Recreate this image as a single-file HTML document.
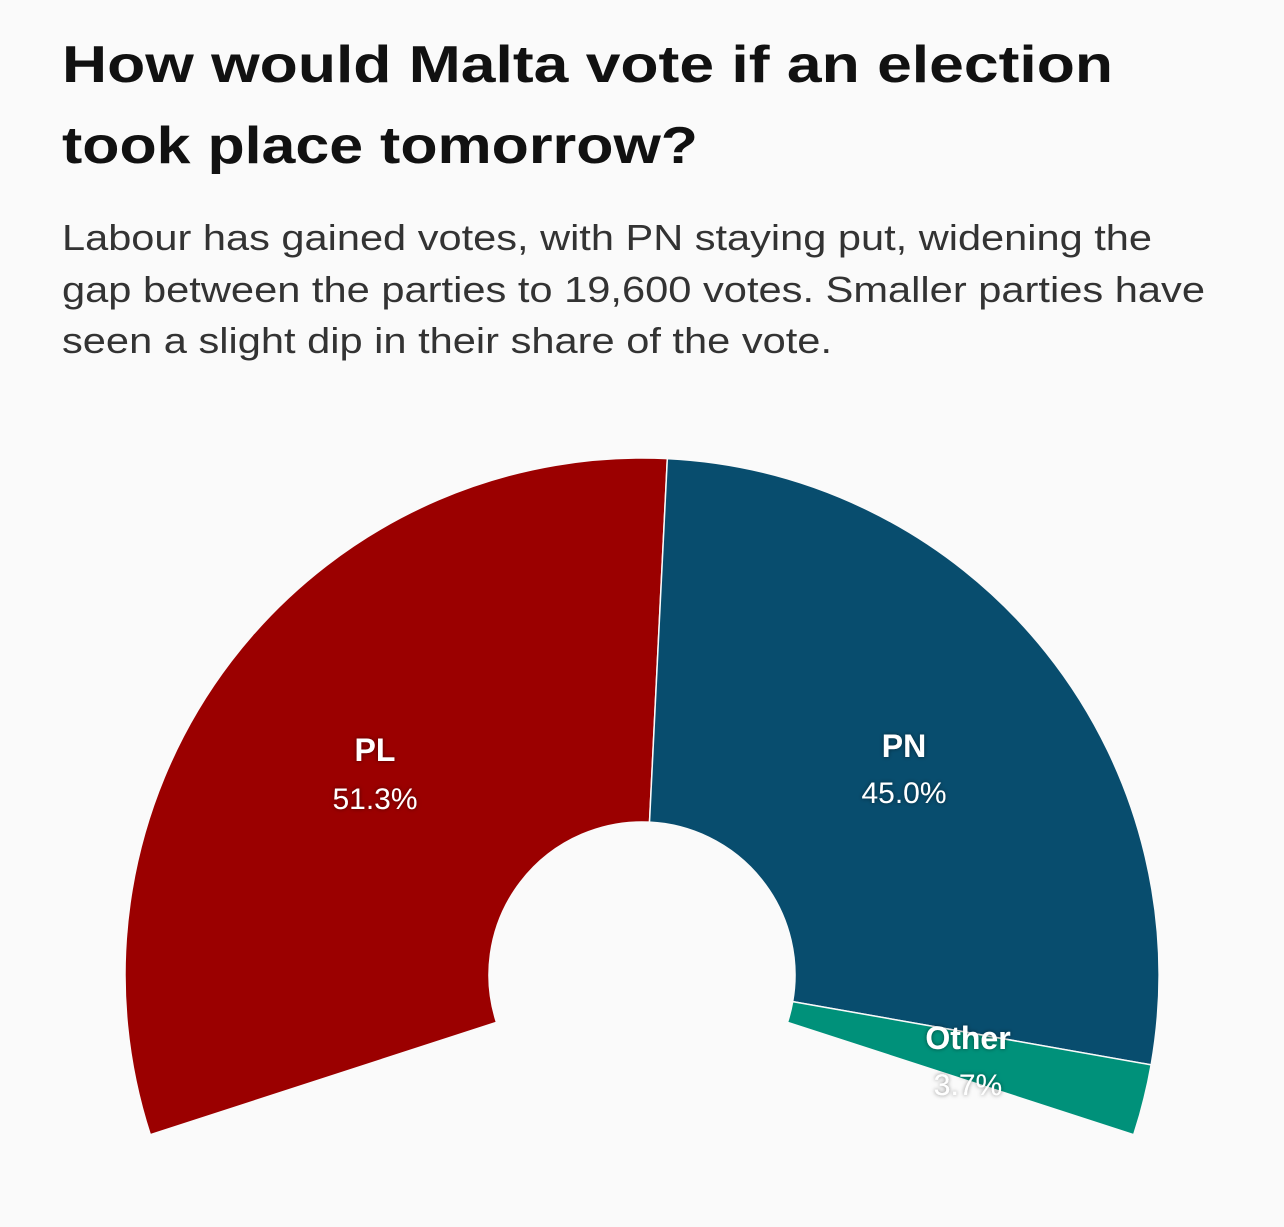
<!DOCTYPE html>
<html><head><meta charset="utf-8"><style>
html,body{margin:0;padding:0;background:#fafafa;width:1284px;height:1227px;overflow:hidden}
svg{display:block}
text{font-family:"Liberation Sans",Arial,sans-serif}
.lab{fill:#fff;font-weight:bold;font-size:32px;text-anchor:middle}
.val{fill:#fff;font-size:30px;text-anchor:middle}
</style></head><body>
<svg id="s" width="1284" height="1227" viewBox="0 0 1284 1227" xmlns="http://www.w3.org/2000/svg">
<defs><filter id="sh" x="-20%" y="-40%" width="140%" height="180%"><feDropShadow dx="0" dy="0" stdDeviation="2" flood-color="#000" flood-opacity="0.5"/></filter></defs>
<text x="62" y="82" font-size="52" font-weight="bold" fill="#111" textLength="1051" lengthAdjust="spacingAndGlyphs">How would Malta vote if an election</text>
<text x="62" y="163" font-size="52" font-weight="bold" fill="#111" textLength="636" lengthAdjust="spacingAndGlyphs">took place tomorrow?</text>
<text x="62" y="250" font-size="36" fill="#333" textLength="1090" lengthAdjust="spacingAndGlyphs">Labour has gained votes, with PN staying put, widening the</text>
<text x="62" y="302" font-size="36" fill="#333" textLength="1143" lengthAdjust="spacingAndGlyphs">gap between the parties to 19,600 votes. Smaller parties have</text>
<text x="62" y="353" font-size="36" fill="#333" textLength="770" lengthAdjust="spacingAndGlyphs">seen a slight dip in their share of the vote.</text>
<g id="arcs"></g>
<g filter="url(#sh)">
<text class="lab" x="375" y="761">PL</text>
<text class="val" x="375" y="809">51.3%</text>
<text class="lab" x="904" y="757">PN</text>
<text class="val" x="904" y="803">45.0%</text>
<text class="lab" x="968" y="1049">Other</text>
<text class="val" x="968" y="1095">3.7%</text>
</g>
</svg>
<script>
var cx=642,cy=975,R=517,r=153;
function pt(a,rad){var t=a*Math.PI/180;return [cx+rad*Math.sin(t),cy-rad*Math.cos(t)];}
function seg(a0,a1,c){var p0=pt(a0,R),p1=pt(a1,R),q1=pt(a1,r),q0=pt(a0,r);var lg=(a1-a0)>180?1:0;
return '<path d="M'+p0+' A'+R+' '+R+' 0 '+lg+' 1 '+p1+' L'+q1+' A'+r+' '+r+' 0 '+lg+' 0 '+q0+' Z" fill="'+c+'" stroke="#fafafa" stroke-width="1.5"/>';}
var a0=-108,tot=216,s1=a0+tot*0.513,s2=s1+tot*0.45;
document.getElementById('arcs').innerHTML=seg(a0,s1,'#9b0000')+seg(s1,s2,'#084d6e')+seg(s2,108,'#00917a');
</script>
</body></html>
